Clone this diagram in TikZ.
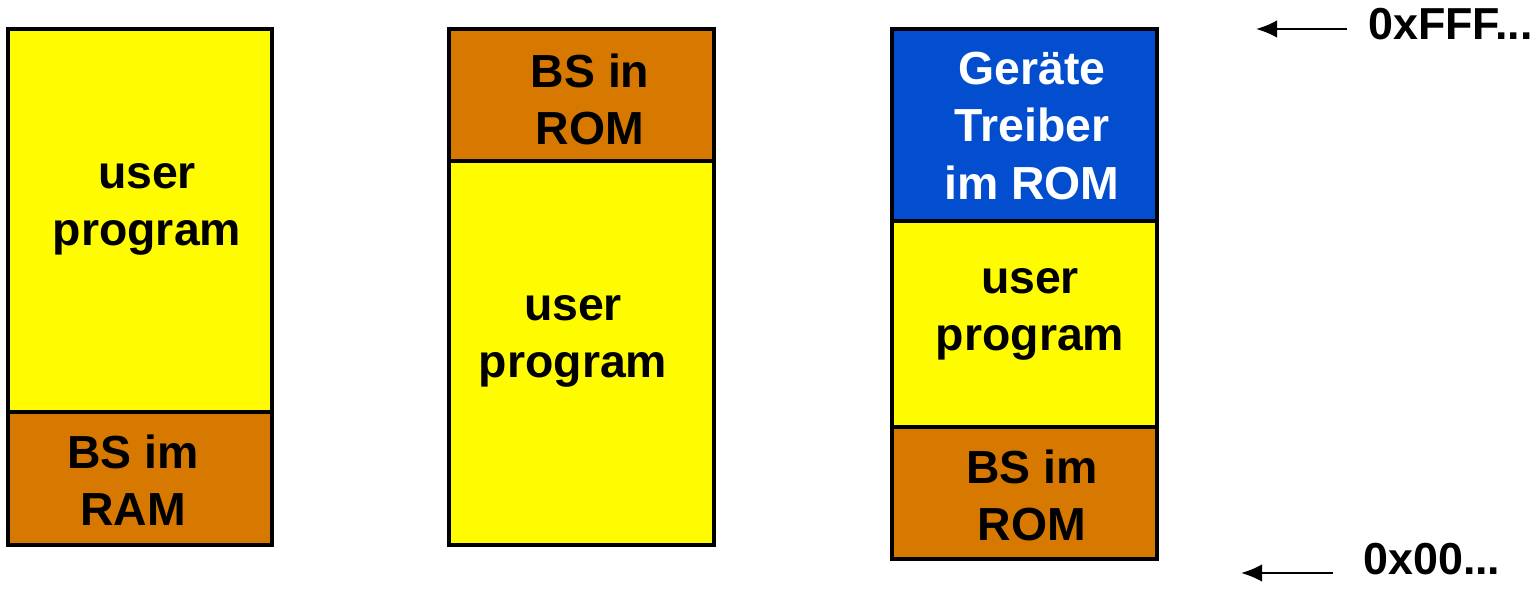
\documentclass[tikz,border=0pt]{standalone}
\usepackage{fontspec}
\setmainfont{Liberation Sans}
\usepackage{xcolor}
\usetikzlibrary{arrows.meta}

\definecolor{memyellow}{HTML}{FFFB00}
\definecolor{memorange}{HTML}{D77800}
\definecolor{memblue}{HTML}{034ECF}

\tikzset{
    membox/.style={draw=black, line width=2pt},
    memtext/.style={font=\fontsize{26.4}{32.5}\selectfont\bfseries, align=center, inner sep=0pt},
    addrtext/.style={font=\fontsize{25.5}{30}\selectfont\bfseries, inner sep=0pt},
    addrarrow/.style={line width=1.2pt, -{Latex[length=12pt, width=10pt]}}
}

\begin{document}
\begin{tikzpicture}[scale=1]
    \useasboundingbox (0,0) rectangle (30.78,11.78);

    % Layout 1: BS im RAM
    \filldraw[membox, fill=memyellow] (0.16,3.54) rectangle (5.44,11.2);
    \filldraw[membox, fill=memorange] (0.16,0.88) rectangle (5.44,3.54);
    \node[memtext] (user1) at (2.94,7.6) {user\\program};
    \node[memtext] (bsram) at (2.66,2.18) {BS im\\RAM};

    % Layout 2: BS in ROM oben
    \filldraw[membox, fill=memorange] (8.98,8.56) rectangle (14.28,11.2);
    \filldraw[membox, fill=memyellow] (8.98,0.88) rectangle (14.28,8.56);
    \node[memtext] (bsrom2) at (11.8,9.8) {BS in\\ROM};
    \node[memtext] (user2) at (11.46,4.96) {user\\program};

    % Layout 3: Treiber im ROM
    \filldraw[membox, fill=memblue] (17.84,7.36) rectangle (23.14,11.2);
    \filldraw[membox, fill=memyellow] (17.84,3.24) rectangle (23.14,7.36);
    \filldraw[membox, fill=memorange] (17.84,0.6) rectangle (23.14,3.24);
    \node[memtext, text=white] (treiber) at (20.64,9.26) {Geräte\\Treiber\\im ROM};
    \node[memtext] (user3) at (20.6,5.5) {user\\program};
    \node[memtext] (bsrom3) at (20.64,1.88) {BS im\\ROM};

    % Adressen
    \node[addrtext, anchor=west] (addrhigh) at (27.36,11.3) {0xFFF...};
    \node[addrtext, anchor=west] (addrlow) at (27.26,0.6) {0x00...};
    \coordinate (highstart) at (26.94,11.2);
    \coordinate (hightip) at (25.12,11.2);
    \coordinate (lowstart) at (26.66,0.32);
    \coordinate (lowtip) at (24.82,0.32);
    \draw[addrarrow] (highstart) -- (hightip);
    \draw[addrarrow] (lowstart) -- (lowtip);
\end{tikzpicture}
\end{document}
